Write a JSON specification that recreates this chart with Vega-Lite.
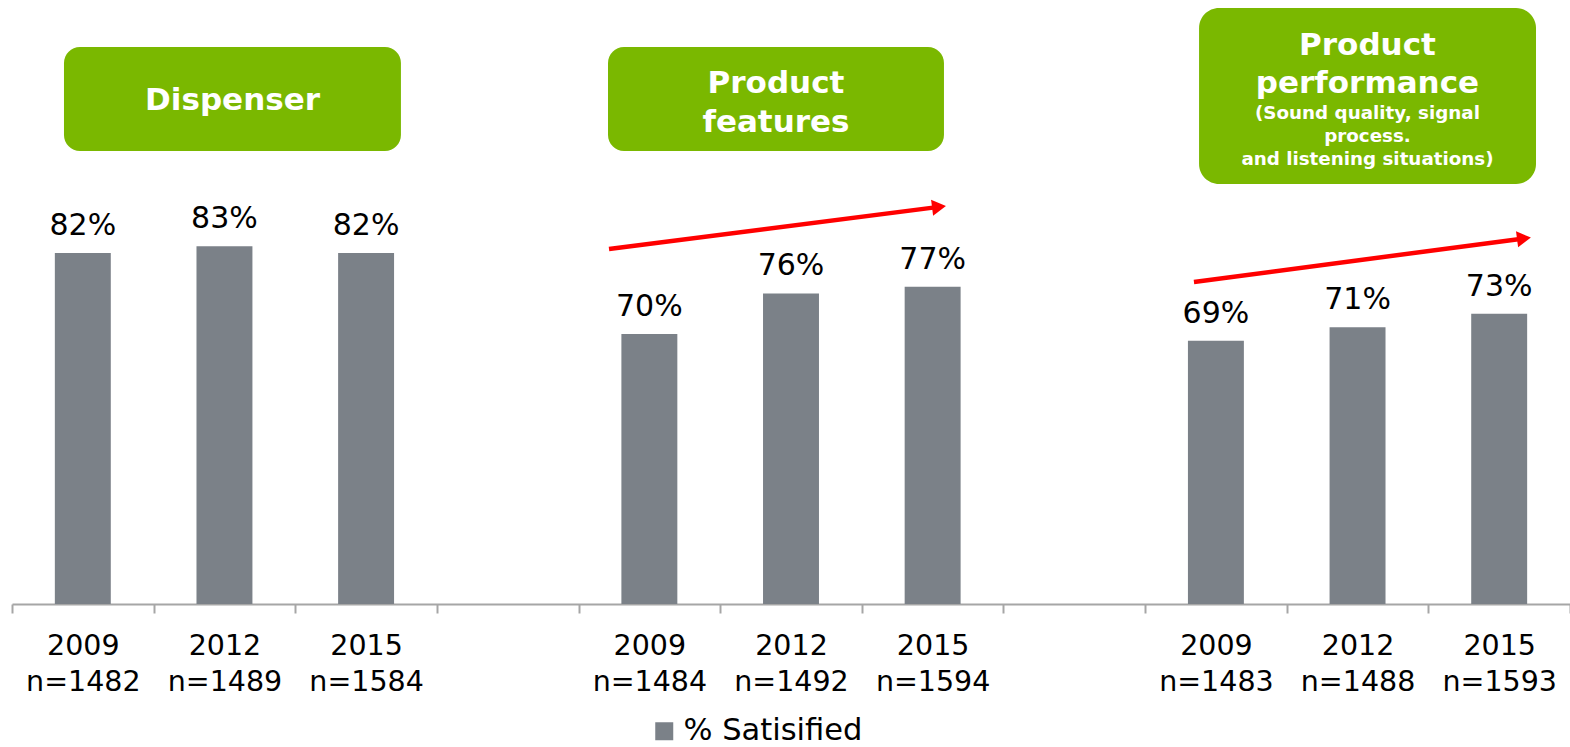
{
  "$schema": "https://vega.github.io/schema/vega-lite/v6.json",
  "width": 1558,
  "height": 604,
  "autosize": {"type": "none"},
  "padding": {"left": 12, "top": 0, "right": 0, "bottom": 143},
  "background": "white",
  "config": {"view": {"stroke": null}, "font": "DejaVu Sans"},
  "resolve": {"scale": {"x": "independent"}},
  "layer": [
    {
      "data": {
        "values": [
          {"cat": "2009|n=1482", "value": 0.82, "series": "% Satisified"},
          {"cat": "2012|n=1489", "value": 0.83, "series": "% Satisified"},
          {"cat": "2015|n=1584", "value": 0.82, "series": "% Satisified"},
          {"cat": "gap1", "value": null, "series": "% Satisified"},
          {"cat": "2009|n=1484", "value": 0.70, "series": "% Satisified"},
          {"cat": "2012|n=1492", "value": 0.76, "series": "% Satisified"},
          {"cat": "2015|n=1594", "value": 0.77, "series": "% Satisified"},
          {"cat": "gap2", "value": null, "series": "% Satisified"},
          {"cat": "2009|n=1483", "value": 0.69, "series": "% Satisified"},
          {"cat": "2012|n=1488", "value": 0.71, "series": "% Satisified"},
          {"cat": "2015|n=1593", "value": 0.73, "series": "% Satisified"}
        ]
      },
      "encoding": {
        "x": {
          "field": "cat",
          "type": "nominal",
          "sort": null,
          "scale": {
            "domain": ["2009|n=1482", "2012|n=1489", "2015|n=1584", "gap1", "2009|n=1484", "2012|n=1492", "2015|n=1594", "gap2", "2009|n=1483", "2012|n=1488", "2015|n=1593"],
            "paddingInner": 0,
            "paddingOuter": 0
          },
          "axis": {
            "title": null,
            "labelAngle": 0,
            "tickBand": "extent",
            "labelExpr": "(datum.value == null || datum.value == 'gap1' || datum.value == 'gap2') ? '' : split(datum.value, '|')",
            "labelFont": "DejaVu Sans",
            "labelFontSize": 28.5,
            "labelColor": "#000000",
            "labelLineHeight": 36,
            "labelPadding": 18,
            "labelBaseline": "top",
            "tickSize": 9,
            "tickWidth": 2,
            "domainWidth": 2,
            "domainColor": "#A6A6A6",
            "tickColor": "#A6A6A6",
            "grid": false
          }
        },
        "y": {
          "field": "value",
          "type": "quantitative",
          "scale": {"domain": [0.3, 1.1948], "nice": false, "zero": false},
          "axis": null
        }
      },
      "layer": [
        {
          "mark": {"type": "bar", "width": {"band": 0.395}},
          "encoding": {
            "y2": {"datum": 0.3},
            "color": {
              "field": "series",
              "type": "nominal",
              "scale": {"range": ["#7B8188"]},
              "legend": {
                "title": null,
                "orient": "none",
                "legendX": 637,
                "legendY": 716,
                "padding": 0,
                "symbolType": "square",
                "symbolSize": 324,
                "symbolStrokeWidth": 0,
                "labelFont": "DejaVu Sans",
                "labelFontSize": 30.5,
                "labelColor": "#000000",
                "labelOffset": 4,
                "labelLimit": 400
              }
            }
          }
        },
        {
          "mark": {"type": "text", "baseline": "alphabetic", "dy": -18, "fontSize": 30, "font": "DejaVu Sans", "color": "#000000"},
          "encoding": {
            "text": {"field": "value", "type": "quantitative", "format": ".0%"}
          }
        }
      ]
    },
    {
      "data": {"values": [{}]},
      "layer": [
        {
          "mark": {"type": "rect", "cornerRadius": 16, "color": "#7AB800"},
          "encoding": {
            "x": {"datum": 0.367, "type": "quantitative", "scale": {"domain": [0, 11], "nice": false, "zero": false}, "axis": null},
            "x2": {"datum": 2.746},
            "y": {"datum": 1.1252, "type": "quantitative", "scale": {"domain": [0.3, 1.1948], "nice": false, "zero": false}, "axis": null},
            "y2": {"datum": 0.9711}
          }
        },
        {
          "mark": {"type": "rect", "cornerRadius": 16, "color": "#7AB800"},
          "encoding": {
            "x": {"datum": 4.208, "type": "quantitative", "scale": {"domain": [0, 11], "nice": false, "zero": false}, "axis": null},
            "x2": {"datum": 6.580},
            "y": {"datum": 1.1252, "type": "quantitative", "scale": {"domain": [0.3, 1.1948], "nice": false, "zero": false}, "axis": null},
            "y2": {"datum": 0.9711}
          }
        },
        {
          "mark": {"type": "rect", "cornerRadius": 20, "color": "#7AB800"},
          "encoding": {
            "x": {"datum": 8.381, "type": "quantitative", "scale": {"domain": [0, 11], "nice": false, "zero": false}, "axis": null},
            "x2": {"datum": 10.760},
            "y": {"datum": 1.1830, "type": "quantitative", "scale": {"domain": [0.3, 1.1948], "nice": false, "zero": false}, "axis": null},
            "y2": {"datum": 0.9222}
          }
        },
        {
          "mark": {"type": "text", "text": "Dispenser", "align": "center", "baseline": "alphabetic", "fontSize": 31, "fontWeight": "bold", "font": "DejaVu Sans", "color": "#FFFFFF"},
          "encoding": {
            "x": {"datum": 1.557, "type": "quantitative", "scale": {"domain": [0, 11], "nice": false, "zero": false}, "axis": null},
            "y": {"datum": 1.0319, "type": "quantitative", "scale": {"domain": [0.3, 1.1948], "nice": false, "zero": false}, "axis": null}
          }
        },
        {
          "mark": {"type": "text", "text": ["Product", "features"], "lineHeight": 39, "align": "center", "baseline": "alphabetic", "fontSize": 31, "fontWeight": "bold", "font": "DejaVu Sans", "color": "#FFFFFF"},
          "encoding": {
            "x": {"datum": 5.394, "type": "quantitative", "scale": {"domain": [0, 11], "nice": false, "zero": false}, "axis": null},
            "y": {"datum": 1.0570, "type": "quantitative", "scale": {"domain": [0.3, 1.1948], "nice": false, "zero": false}, "axis": null}
          }
        },
        {
          "mark": {"type": "text", "text": ["Product", "performance"], "lineHeight": 38, "align": "center", "baseline": "alphabetic", "fontSize": 31, "fontWeight": "bold", "font": "DejaVu Sans", "color": "#FFFFFF"},
          "encoding": {
            "x": {"datum": 9.570, "type": "quantitative", "scale": {"domain": [0, 11], "nice": false, "zero": false}, "axis": null},
            "y": {"datum": 1.1133, "type": "quantitative", "scale": {"domain": [0.3, 1.1948], "nice": false, "zero": false}, "axis": null}
          }
        },
        {
          "mark": {"type": "text", "text": ["(Sound quality, signal", "process.", "and listening situations)"], "lineHeight": 23, "align": "center", "baseline": "alphabetic", "fontSize": 18.3, "fontWeight": "bold", "font": "DejaVu Sans", "color": "#FFFFFF"},
          "encoding": {
            "x": {"datum": 9.570, "type": "quantitative", "scale": {"domain": [0, 11], "nice": false, "zero": false}, "axis": null},
            "y": {"datum": 1.0181, "type": "quantitative", "scale": {"domain": [0.3, 1.1948], "nice": false, "zero": false}, "axis": null}
          }
        },
        {
          "mark": {"type": "rule", "color": "#FF0000", "strokeWidth": 4.5},
          "encoding": {
            "x": {"datum": 4.215, "type": "quantitative", "scale": {"domain": [0, 11], "nice": false, "zero": false}, "axis": null},
            "x2": {"datum": 6.545},
            "y": {"datum": 0.8259, "type": "quantitative", "scale": {"domain": [0.3, 1.1948], "nice": false, "zero": false}, "axis": null},
            "y2": {"datum": 0.8883}
          }
        },
        {
          "mark": {"type": "point", "shape": "triangle-right", "filled": true, "size": 260, "angle": -7.3, "color": "#FF0000", "opacity": 1},
          "encoding": {
            "x": {"datum": 6.545, "type": "quantitative", "scale": {"domain": [0, 11], "nice": false, "zero": false}, "axis": null},
            "y": {"datum": 0.8883, "type": "quantitative", "scale": {"domain": [0.3, 1.1948], "nice": false, "zero": false}, "axis": null}
          }
        },
        {
          "mark": {"type": "rule", "color": "#FF0000", "strokeWidth": 4.5},
          "encoding": {
            "x": {"datum": 8.345, "type": "quantitative", "scale": {"domain": [0, 11], "nice": false, "zero": false}, "axis": null},
            "x2": {"datum": 10.675},
            "y": {"datum": 0.7770, "type": "quantitative", "scale": {"domain": [0.3, 1.1948], "nice": false, "zero": false}, "axis": null},
            "y2": {"datum": 0.8416}
          }
        },
        {
          "mark": {"type": "point", "shape": "triangle-right", "filled": true, "size": 260, "angle": -7.5, "color": "#FF0000", "opacity": 1},
          "encoding": {
            "x": {"datum": 10.675, "type": "quantitative", "scale": {"domain": [0, 11], "nice": false, "zero": false}, "axis": null},
            "y": {"datum": 0.8416, "type": "quantitative", "scale": {"domain": [0.3, 1.1948], "nice": false, "zero": false}, "axis": null}
          }
        }
      ]
    }
  ]
}
